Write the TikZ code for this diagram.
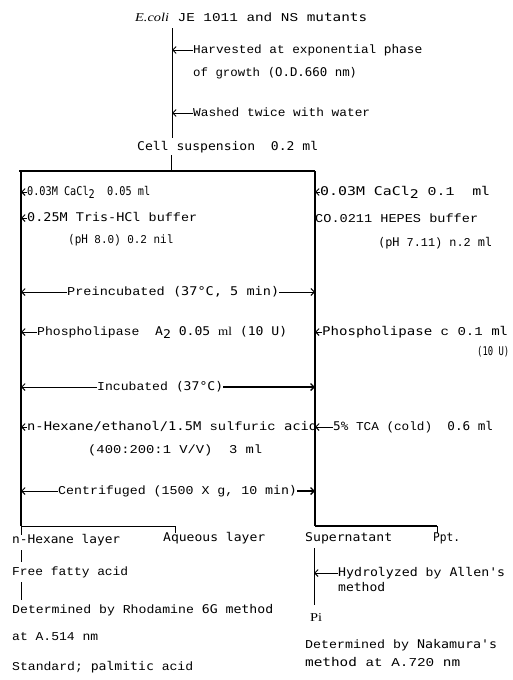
\documentclass[tikz,border=0pt]{standalone}
\usepackage{graphicx}
\usepackage{fontspec}
\setmainfont{Liberation Mono}
\newfontfamily\lserif{Liberation Serif}
\newfontfamily\sfm{DejaVu Sans Mono}
\usetikzlibrary{arrows.meta}
\newcommand\T[2]{\setbox0=\hbox{#2}\pgfmathsetmacro\tsc{#1/\the\wd0}\scalebox{\tsc}[1]{\box0}}
\newcommand\sub[1]{\raisebox{-3.5pt}{#1}}
\tikzset{
  txt/.style={inner sep=0pt, anchor=west, text height=8pt, text depth=2pt, font=\fontsize{12}{14}\selectfont},
  arr/.style={line width=0.9pt, -{Straight Barb[length=3.5pt,width=7pt]}},
  thin/.style={line width=0.9pt},
  boxline/.style={line width=1.6pt}
}
\begin{document}
\begin{tikzpicture}[x=1pt,y=-1pt]
\useasboundingbox (0,0) rectangle (512,680);
% top section
\node[txt] (ecoli) at (135,18) {\T{232}{{\lserif\itshape E.coli} JE 1011 and NS {\sfm mutants}}};
\node[txt] (harv) at (193,50) {\T{229}{Harvested at exponential {\sfm phase}}};
\node[txt] (growth) at (193,73) {\T{164}{of growth {\sfm(O.D.660 nm)}}};
\node[txt] (wash) at (193,113) {\T{177}{Washed twice with water}};
\node[txt] (cell) at (137,147) {\T{181}{\sfm Cell suspension\ \ 0.2 ml}};
\coordinate (k1) at (172,28);
\coordinate (k2) at (172,138);
\draw[thin] (k1) -- (k2);
\draw[arr] (harv.west) -- (harv.west -| k1);
\draw[arr] (wash.west) -- (wash.west -| k1);
% box
\coordinate (tl) at (19,171);
\coordinate (tr) at (315,171);
\coordinate (bl) at (21,526);
\coordinate (br) at (315,526);
\coordinate (k3) at (171,171);
\draw[thin] (cell.south -| k3) ++(0,3) -- (k3);
\draw[boxline] (tl) -- (tr);
\draw[boxline] (bl |- tl) -- (bl);
\draw[boxline] (tr) -- (br);
% left column
\node[txt] (ca1) at (27,192) {\T{123}{\sfm 0.03M CaCl\sub{2}\ \ 0.05 ml}};
\node[txt] (tris) at (27,218) {\T{170}{{\sfm 0.25M Tris-HCl} buffer}};
\node[txt] (ph1) at (68,240) {\T{105}{{\sfm(pH} 8.0) 0.2 nil}};
\draw[arr] (ca1.west) -- (ca1.west -| bl);
\draw[arr] (tris.west) -- (tris.west -| bl);
% right column
\node[txt] (ca2) at (320,192) {\T{170}{{\sfm 0.03M CaCl\sub{2}} 0.1\ \ {\sfm ml}}};
\node[txt] (hepes) at (315,219) {\T{163}{CO.0211 HEPES buffer}};
\node[txt] (ph2) at (378,243) {\T{114}{{\sfm(pH} 7.11) n.2 {\sfm ml}}};
\draw[arr] (ca2.west) -- (ca2.west -| br);
% preincubation
\node[txt] (preinc) at (67,292) {\T{212}{Preincubated {\sfm(37°C, 5 min)}}};
\draw[arr] (preinc.west) -- (preinc.west -| bl);
\draw[arr] (preinc.east) -- (preinc.east -| br);
% phospholipases
\node[txt] (plA) at (37,332) {\T{250}{Phospholipase\ \ {\sfm A\sub{2} 0.05} {\lserif ml} {\sfm(10 U)}}};
\draw[arr] (plA.west) -- (plA.west -| bl);
\node[txt] (plC) at (322,332) {\T{186}{{\sfm Phospholipase} c 0.1 {\sfm ml}}};
\node[txt] (plC2) at (477,352) {\T{32}{\sfm(10 U)}};
\draw[arr] (plC.west) -- (plC.west -| br);
% incubation
\node[txt] (inc) at (97,387) {\T{126}{Incubated {\sfm(37°C)}}};
\draw[arr] (inc.west) -- (inc.west -| bl);
\draw[arr, line width=1.4pt] (inc.east) -- (inc.east -| br);
% extraction
\node[txt] (hex) at (27,427) {\T{290}{{\sfm n-Hexane/ethanol/1.5M} sulfuric {\sfm acid}}};
\node[txt] (ratio) at (88,450) {\T{174}{(400:200:1 V/V)\ \ 3 ml}};
\draw[arr] (hex.west) -- (hex.west -| bl);
\node[txt] (tca) at (333,427) {\T{160}{{\sfm 5\%} TCA (cold)\ \ {\sfm 0.6 ml}}};
\draw[arr] (tca.west) -- (tca.west -| br);
% centrifugation
\node[txt] (cent) at (58,491) {\T{239}{Centrifuged (1500 X g, 10 {\sfm min)}}};
\draw[arr] (cent.west) -- (cent.west -| bl);
\draw[arr, line width=1.4pt] (cent.east) -- (cent.east -| br);
% bottom split
\node[txt] (hexl) at (12,540) {\T{108}{\sfm n-Hexane layer}};
\node[txt] (aq) at (163,538) {\T{102}{\sfm Aqueous layer}};
\node[txt] (sup) at (305,538) {\T{87}{\sfm Supernatant}};
\node[txt] (ppt) at (433,538) {\T{27}{\sfm Ppt.}};
\coordinate (ba) at (175,526);
\coordinate (bp) at (437,526);
\draw[thin] (bl) -- (ba) -- (aq.north -| ba);
\draw[thin] (bl) -- (hexl.north -| bl);
\draw[boxline] (br) -- (bp);
\draw[thin] (bp) -- (ppt.north -| bp);
% left results
\node[txt] (ffa) at (12,572) {\T{116}{Free fatty acid}};
\node[txt] (rho) at (12,610) {\T{261}{Determined by Rhodamine {\sfm 6G method}}};
\node[txt] (a514) at (12,637) {\T{86}{at A.514 nm}};
\node[txt] (std) at (12,667) {\T{181}{Standard; {\sfm palmitic} acid}};
\draw[thin] ([yshift=-5pt]hexl.south -| bl) -- ([yshift=5pt]ffa.north -| bl);
\draw[thin] ([yshift=-5pt]ffa.south -| bl) -- ([yshift=5pt]rho.north -| bl);
% right results
\coordinate (sx) at (314,0);
\node[txt] (hyd) at (338,573) {\T{167}{{\sfm Hydrolyzed} by {\sfm Allen's}}};
\node[txt] (meth) at (338,588) {\T{47}{\sfm method}};
\node[txt] (pi) at (310,618) {\T{12}{{\lserif Pi}}};
\node[txt] (nak) at (305,645) {\T{192}{Determined by {\sfm Nakamura's}}};
\node[txt] (nak2) at (305,663) {\T{155}{{\sfm method} at A.720 {\sfm nm}}};
\draw[thin] ([yshift=-5pt]sup.south -| sx) -- ([yshift=8pt]pi.north -| sx);
\draw[arr] (hyd.west) -- (hyd.west -| sx);
\end{tikzpicture}
\end{document}
